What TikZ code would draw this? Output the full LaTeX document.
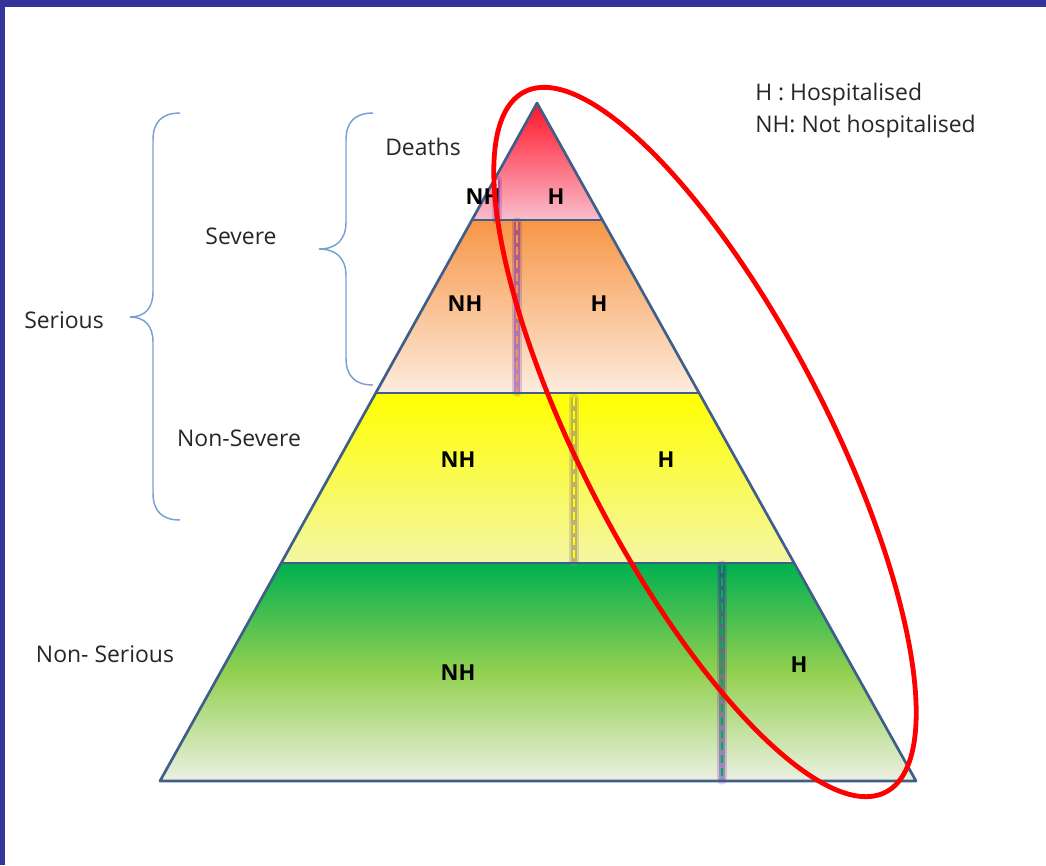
\documentclass[tikz,border=0pt]{standalone}
\usepackage{fontspec}
\setmainfont{Open Sans}
\begin{document}
\begin{tikzpicture}[x=0.75pt,y=-0.75pt,
  lab/.style={font=\fontsize{17.2}{20}\selectfont, text=black!85, inner sep=0pt},
  hlab/.style={font=\fontsize{16.5}{19}\selectfont\bfseries, text=black, inner sep=0pt},
  outline/.style={draw=pyr, line width=2pt, line join=round},
  bracestyle/.style={draw=brace, line width=1.1pt},
  glow/.style={line width=7pt, draw=violet!60!blue, draw opacity=0.18},
  glowin/.style={line width=4pt, draw=violet!60!blue, draw opacity=0.3},
  dashln/.style={line width=2.2pt, dash pattern=on 6pt off 3.5pt}]
\definecolor{frame}{RGB}{52,52,154}
\definecolor{pyr}{RGB}{63,95,138}
\definecolor{brace}{RGB}{120,160,210}
\definecolor{redT}{RGB}{255,20,40}
\definecolor{redB}{RGB}{250,190,205}
\definecolor{orT}{RGB}{247,150,70}
\definecolor{orB}{RGB}{253,236,222}
\definecolor{yeT}{RGB}{255,255,0}
\definecolor{yeB}{RGB}{244,246,165}
\definecolor{grT}{RGB}{0,176,80}
\definecolor{grM}{RGB}{146,208,80}
\definecolor{grB}{RGB}{236,240,226}
\definecolor{glowbrown}{RGB}{160,140,110}
\useasboundingbox (0,0) rectangle (1046,865);
\fill[white] (0,0) rectangle (1046,865);
\fill[frame] (0,0) rectangle (1046,7);
\fill[frame] (0,0) rectangle (5,865);
% pyramid coordinates
\coordinate (A) at (537,103);
\coordinate (L1) at (472,220); \coordinate (R1) at (601,220);
\coordinate (L2) at (376,393); \coordinate (R2) at (698,393);
\coordinate (L3) at (281,563); \coordinate (R3) at (793,563);
\coordinate (L4) at (160,781); \coordinate (R4) at (916,781);
% fills
\shade[top color=redT, bottom color=redB] (A) -- (R1) -- (L1) -- cycle;
\shade[top color=orT, bottom color=orB] (L1) -- (R1) -- (R2) -- (L2) -- cycle;
\shade[top color=yeT, bottom color=yeB] (L2) -- (R2) -- (R3) -- (L3) -- cycle;
\shade[top color=grT, bottom color=grB, middle color=grM] (L3) -- (R3) -- (R4) -- (L4) -- cycle;
% dashed separators with glow
\coordinate (d1a) at (497,180); \coordinate (d1b) at (497,220);
\coordinate (d2a) at (517,222); \coordinate (d2b) at (517,392);
\coordinate (d3a) at (574,398); \coordinate (d3b) at (574,562);
\coordinate (d4a) at (722,565); \coordinate (d4b) at (722,780);
\foreach \p/\q in {d1a/d1b, d2a/d2b, d4a/d4b}{
  \draw[glow, line cap=round] (\p) -- (\q);
  \draw[glowin] (\p) -- (\q);
}
\draw[glow, draw=glowbrown, draw opacity=0.3, line cap=round] (d3a) -- (d3b);
\draw[glowin, draw=glowbrown, draw opacity=0.5] (d3a) -- (d3b);
\draw[dashln, draw=redB!60!white] (d1a) -- (d1b);
\draw[dashln, draw=orT] (d2a) -- (d2b);
\draw[dashln, draw=yeT] (d3a) -- (d3b);
\draw[dashln, draw=grT] (d4a) -- (d4b);
% outlines
\draw[outline] (A) -- (R4) -- (L4) -- cycle;
\draw[outline] (L1) -- (R1);
\draw[outline] (L2) -- (R2);
\draw[outline] (L3) -- (R3);
% braces
\draw[bracestyle] (180,113) .. controls (162,113) and (153,122) .. (153,140) -- (153,292)
  .. controls (153,308) and (145,317) .. (130,317)
  .. controls (145,317) and (153,326) .. (153,342) -- (153,493)
  .. controls (153,511) and (162,520) .. (180,520);
\draw[bracestyle] (373,113) .. controls (355,113) and (346,122) .. (346,140) -- (346,222)
  .. controls (346,240) and (336,249) .. (319,249)
  .. controls (336,249) and (346,258) .. (346,276) -- (346,358)
  .. controls (346,376) and (355,385) .. (373,385);
% side labels
\node[lab] (deaths) at (423,147) {Deaths};
\node[lab] (severe) at (241,236) {Severe};
\node[lab] (serious) at (64,320) {Serious};
\node[lab] (nonsevere) at (239,438) {Non-Severe};
\node[lab] (nonserious) at (105,654) {Non- Serious};
% H / NH labels
\node[hlab] (nh1) at (483,197) {NH};
\node[hlab] (h1) at (556,197) {H};
\node[hlab] (nh2) at (465,304) {NH};
\node[hlab] (h2) at (599,304) {H};
\node[hlab] (nh3) at (458,460) {NH};
\node[hlab] (h3) at (666,460) {H};
\node[hlab] (nh4) at (458,673) {NH};
\node[hlab] (h4) at (799,665) {H};
% legend
\node[lab, anchor=west] (leg1) at (755,95) {H : Hospitalised};
\node[lab, anchor=west] (leg2) at (755,127) {NH: Not hospitalised};
% red ellipse
\draw[red, line width=3.6pt] (705,442) ellipse [x radius=394, y radius=123, rotate=-62.7];
\end{tikzpicture}
\end{document}
